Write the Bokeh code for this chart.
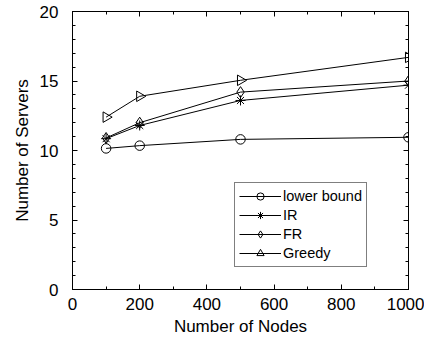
import math
from bokeh.plotting import figure
from bokeh.models import Legend, LegendItem, LinearAxis, Range1d, SingleIntervalTicker, CustomJSTickFormatter
from bokeh.embed import file_html
from bokeh.resources import INLINE

nodes = [100, 200, 500, 1000]
lower_bound = [10.15, 10.35, 10.8, 10.95]
ir = [10.85, 11.8, 13.6, 14.7]
fr = [10.9, 12.0, 14.2, 15.0]
greedy = [12.4, 13.9, 15.05, 16.7]

x_ticks_major = 200
y_ticks_major = 5

FONT = "Liberation Sans"

p = figure(width=424, height=340, output_backend="svg", toolbar_location=None,
           x_range=Range1d(0, 1000), y_range=Range1d(0, 20),
           min_border_left=72, min_border_right=16, min_border_top=11, min_border_bottom=51)
p.xgrid.visible = False
p.ygrid.visible = False
p.outline_line_color = "black"
p.background_fill_color = "white"
p.border_fill_color = "white"

def style_axis(ax, major, minor_n, labels=True):
    ax.ticker = SingleIntervalTicker(interval=major, num_minor_ticks=minor_n)
    ax.axis_line_color = "black"
    ax.major_tick_in = 5
    ax.major_tick_out = 0
    ax.minor_tick_in = 3
    ax.minor_tick_out = 0
    ax.major_tick_line_color = "black"
    ax.minor_tick_line_color = "black"
    ax.major_label_text_font = FONT
    ax.major_label_text_font_size = "17px"
    ax.major_label_text_color = "black"
    ax.axis_label_text_font = FONT
    ax.axis_label_text_font_size = "17px"
    ax.axis_label_text_font_style = "normal"
    ax.axis_label_text_color = "black"
    if not labels:
        ax.formatter = CustomJSTickFormatter(code="return ''")
        ax.major_label_standoff = 0

xa = p.xaxis[0]
style_axis(xa, x_ticks_major, 2)
xa.axis_label = "Number of Nodes"
xa.major_label_standoff = 8
xa.axis_label_standoff = 4

ya = p.yaxis[0]
style_axis(ya, y_ticks_major, 5)
ya.axis_label = "Number of Servers"
ya.major_label_standoff = 14
ya.axis_label_standoff = 5

top = LinearAxis()
style_axis(top, x_ticks_major, 2, labels=False)
p.add_layout(top, "above")
right = LinearAxis()
style_axis(right, y_ticks_major, 5, labels=False)
p.add_layout(right, "right")

series = [
    ("lower bound", lower_bound, "circle", 0.0, 9.5),
    ("IR", ir, "asterisk", 0.0, 10),
    ("FR", fr, "diamond", 0.0, 11),
    ("Greedy", greedy, "triangle", -math.pi / 2, 10.5),
]

items = []
for name, vals, marker, ang, sz in series:
    l = p.line(nodes, vals, line_color="black", line_width=1)
    s = p.scatter(nodes, vals, marker=marker, size=sz, angle=ang,
                  line_color="black", fill_color=None, line_width=1)
    items.append(LegendItem(label=name, renderers=[l, s]))

legend = Legend(items=items, location=(162, 22), orientation="vertical")
legend.glyph_width = 42
legend.glyph_height = 18
legend.label_height = 18
legend.spacing = 1
legend.padding = 4
legend.margin = 0
legend.label_standoff = 2
legend.label_text_font = FONT
legend.label_text_font_size = "14.5px"
legend.label_text_color = "black"
legend.border_line_color = "black"
legend.border_line_width = 1
legend.background_fill_color = "white"
legend.background_fill_alpha = 1
p.add_layout(legend, "center")

open("out.html", "w").write(file_html(p, INLINE))
